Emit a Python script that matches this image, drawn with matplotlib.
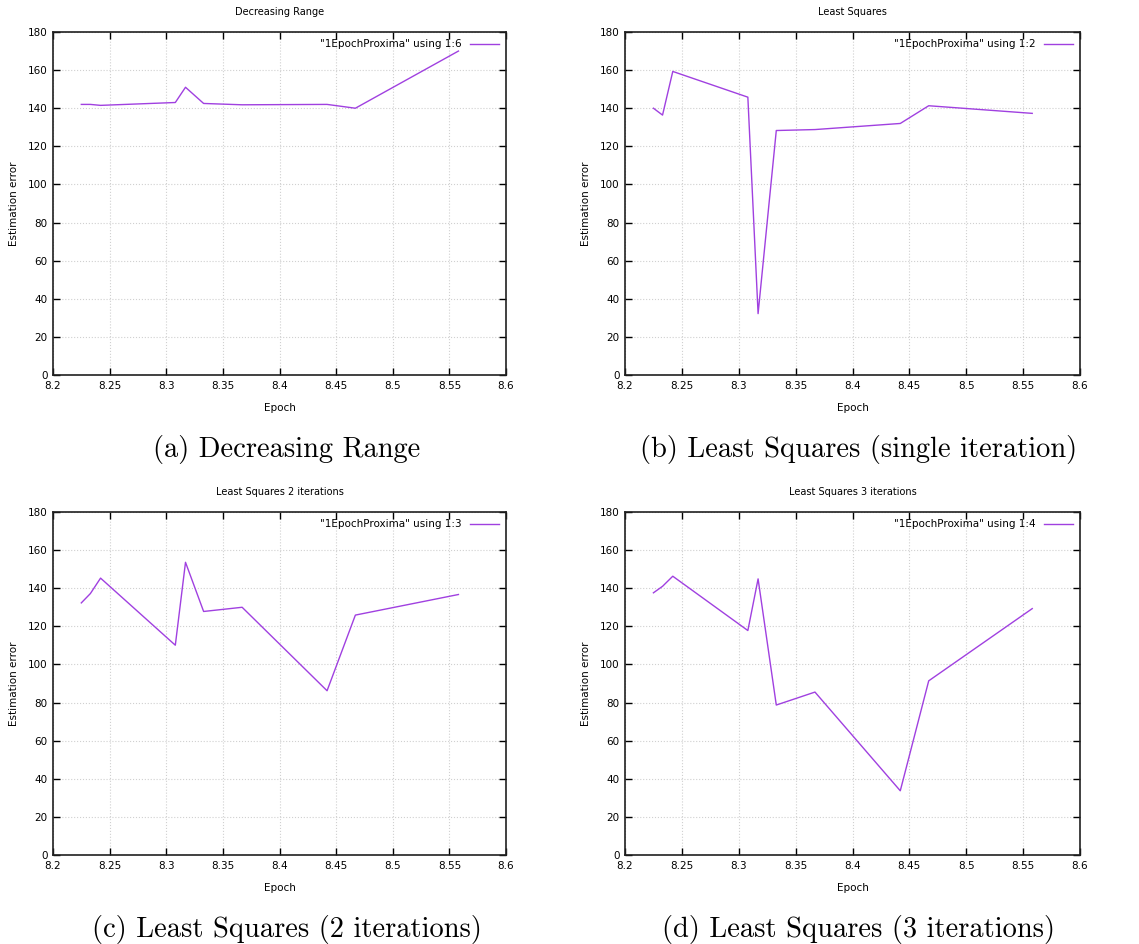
#!/usr/bin/env python
'''
Estimation error per epoch, four panels (gnuplot style figure)
'''
import matplotlib
matplotlib.use('Agg')
import matplotlib.pyplot as plt

epoch = [8.225, 8.233, 8.242, 8.308, 8.317, 8.333, 8.367, 8.442, 8.467, 8.558]

decreasing_range = [142.0, 142.0, 141.5, 143.0, 151.0, 142.5, 141.8, 142.0, 140.0, 170.0]
least_squares_1 = [140.0, 136.4, 159.3, 145.8, 32.2, 128.3, 128.8, 132.0, 141.3, 137.3]
least_squares_2 = [132.3, 137.2, 145.3, 110.1, 153.6, 127.8, 130.0, 86.2, 125.9, 136.7]
least_squares_3 = [137.6, 141.0, 146.3, 117.8, 144.9, 78.7, 85.5, 33.7, 91.4, 129.3]

titles = ['Decreasing Range', 'Least Squares', 'Least Squares 2 iterations', 'Least Squares 3 iterations']
legends = ['"1EpochProxima" using 1:6', '"1EpochProxima" using 1:2',
           '"1EpochProxima" using 1:3', '"1EpochProxima" using 1:4']
captions = ['(a) Decreasing Range', '(b) Least Squares (single iteration)',
            '(c) Least Squares (2 iterations)', '(d) Least Squares (3 iterations)']
series = [decreasing_range, least_squares_1, least_squares_2, least_squares_3]

xticks = [8.2, 8.25, 8.3, 8.35, 8.4, 8.45, 8.5, 8.55, 8.6]
xticklabels = ['8.2', '8.25', '8.3', '8.35', '8.4', '8.45', '8.5', '8.55', '8.6']
yticks = [0, 20, 40, 60, 80, 100, 120, 140, 160, 180]

W, H = 1139, 944
# pixel boxes (left, top, right, bottom) of each plot area
boxes = [(53, 32, 506, 375), (625, 32, 1080, 375),
         (53, 512, 506, 855), (625, 512, 1080, 855)]
caption_pos = [(287, 449), (859, 449), (287, 930), (859, 930)]

fig = plt.figure(figsize=(W / 100, H / 100), dpi=100)

for i in range(4):
    l, t, r, b = boxes[i]
    ax = fig.add_axes([l / W, 1 - b / H, (r - l) / W, (b - t) / H])
    ax.plot(epoch, series[i], color='#a040e0', lw=1.0, label=legends[i])
    ax.set_xlim(8.2, 8.6)
    ax.set_ylim(0, 180)
    ax.set_xticks(xticks)
    ax.set_xticklabels(xticklabels)
    ax.set_yticks(yticks)
    ax.tick_params(direction='in', top=True, right=True, length=5, width=1,
                   labelsize=7.5, pad=4)
    ax.grid(True, color='#d0d0d0', ls=':', lw=0.8)
    for s in ax.spines.values():
        s.set_linewidth(1.2)
        s.set_color('#202020')
    ax.set_title(titles[i], fontsize=7, pad=12)
    ax.set_xlabel('Epoch', fontsize=7.5, labelpad=9)
    ax.set_ylabel('Estimation error', fontsize=7.5, labelpad=6)
    ax.legend(loc='upper right', frameon=False, markerfirst=False, fontsize=7.5,
              handlelength=2.8, borderaxespad=0.3)
    cx, cy = caption_pos[i]
    fig.text(cx / W, 1 - cy / H, captions[i], family='cmr10', fontsize=20.5,
             ha='center', va='center')

fig.savefig('out.png', dpi=100)
